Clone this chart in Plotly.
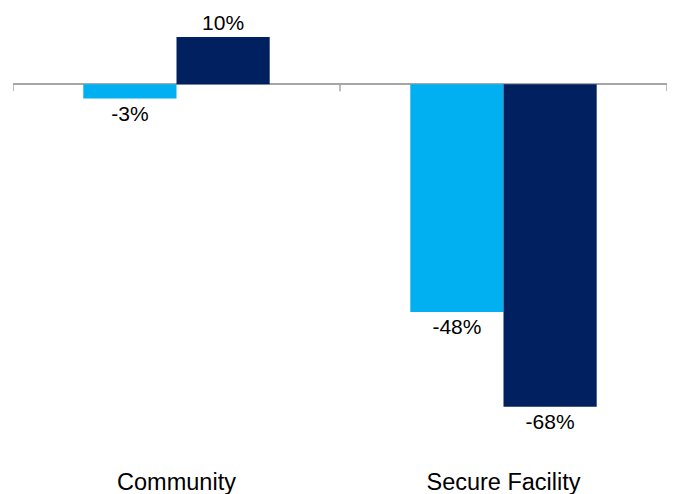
import plotly.graph_objects as go

categories = ["Community", "Secure Facility"]
series_a = [-3, -48]
series_b = [10, -68]
series_names = ["Series A", "Series B"]
colors = ["#00B0F0", "#002060"]

fig = go.Figure()
for name, vals, col in zip(series_names, [series_a, series_b], colors):
    fig.add_trace(go.Bar(
        x=categories, y=vals, name=name,
        marker=dict(color=col, line=dict(width=0)),
        text=[f"{v}%" for v in vals], textposition="outside",
        textfont=dict(family="Liberation Sans, Arial, sans-serif", size=21, color="#000000"),
        cliponaxis=False,
    ))

# category-boundary tick marks on the zero line
for xb in [-0.5, 0.5, 1.5]:
    fig.add_shape(type="line", xref="x", yref="y", x0=xb, x1=xb,
                  ysizemode="pixel", yanchor=0, y0=0, y1=-7,
                  line=dict(color="#A6A6A6", width=1.5))

fig.update_layout(
    width=674, height=494,
    margin=dict(l=13, r=7, t=0, b=29),
    paper_bgcolor="white", plot_bgcolor="white",
    barmode="group", bargap=0.43, bargroupgap=0,
    showlegend=False,
    font=dict(family="Liberation Sans, Arial, sans-serif", color="#000000"),
)
fig.update_xaxes(range=[-0.5, 1.5], showline=False, ticks="", showgrid=False,
                 tickfont=dict(size=23.5, color="#000000"), zeroline=False)
fig.update_yaxes(range=[-80.3, 17.8], showticklabels=False, showgrid=False,
                 zeroline=True, zerolinecolor="#A6A6A6", zerolinewidth=2,
                 showline=False, ticks="")

fig.write_html("out.html", config={"displayModeBar": False},
               post_script="document.body.style.margin='0';document.body.style.overflow='hidden';")
